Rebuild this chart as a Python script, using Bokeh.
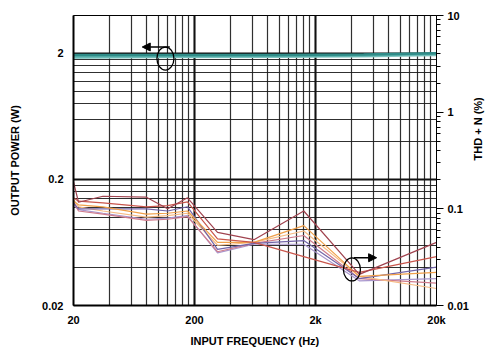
import math
from bokeh.plotting import figure
from bokeh.models import Range1d, LogAxis, FixedTicker, Grid, Arrow, NormalHead
from bokeh.embed import file_html
from bokeh.resources import INLINE

# ---- data ----
power_freq = [20, 100, 1000, 5000, 20000]
power_a = [1.94, 1.94, 1.94, 1.96, 2.01]
power_b = [1.89, 1.90, 1.91, 1.93, 1.98]
power_c = [1.85, 1.87, 1.88, 1.90, 1.94]

thd_freq = [20, 22, 35, 80, 120, 175, 310, 620, 1600, 4600, 20000]
thd_1 = [0.190, 0.117, 0.135, 0.132, 0.100, 0.130, 0.057, 0.048, 0.095, 0.021, 0.045]
thd_2 = [0.130, 0.120, 0.115, 0.105, 0.108, 0.118, 0.049, 0.045, 0.032, 0.022, 0.032]
thd_3 = [0.120, 0.110, 0.105, 0.088, 0.090, 0.095, 0.045, 0.045, 0.067, 0.020, 0.022]
thd_4 = [0.115, 0.100, 0.100, 0.100, 0.095, 0.105, 0.038, 0.044, 0.047, 0.019, 0.025]
thd_5 = [0.125, 0.105, 0.095, 0.082, 0.085, 0.090, 0.042, 0.045, 0.059, 0.020, 0.015]
thd_6 = [0.110, 0.098, 0.090, 0.078, 0.080, 0.085, 0.035, 0.043, 0.043, 0.018, 0.019]
thd_7 = [0.118, 0.095, 0.088, 0.076, 0.078, 0.083, 0.036, 0.044, 0.053, 0.019, 0.017]

power_colors = ["#2f8c88", "#5db3ae", "#8ccbc6"]
thd_colors = ["#a0434f", "#c9564c", "#f0a04a", "#7365a9", "#f6bb84", "#a996cd", "#d07c8c"]

x_ticks = [20, 200, 2000, 20000]
x_tick_labels = ["20", "200", "2k", "20k"]
x_grid = [20, 40, 60, 80, 100, 120, 140, 160, 180, 200,
          400, 600, 800, 1000, 1200, 1400, 1600, 1800, 2000,
          4000, 6000, 8000, 10000, 12000, 14000, 16000, 18000, 20000]
left_ticks = [0.02, 0.2, 2]
y_grid = [0.04, 0.06, 0.08, 0.1, 0.12, 0.14, 0.16, 0.18, 0.2,
          0.4, 0.6, 0.8, 1.0, 1.2, 1.4, 1.6, 1.8, 2.0]
right_ticks = [0.01, 0.1, 1, 10]
right_minor = [m * d for d in [0.01, 0.1, 1] for m in range(2, 10)]

FONT = "Liberation Sans"

p = figure(width=493, height=350, x_axis_type="log", y_axis_type="log",
           x_range=Range1d(20, 20000), y_range=Range1d(0.02, 4),
           output_backend="svg", toolbar_location=None,
           min_border_left=73, min_border_right=57, min_border_top=15,
           min_border_bottom=45)
p.extra_y_ranges = {"thd": Range1d(0.01, 10)}
p.background_fill_color = "white"
p.border_fill_color = "white"
p.outline_line_color = "black"
p.outline_line_width = 1

# grids
p.xgrid.ticker = FixedTicker(ticks=x_grid)
p.ygrid.ticker = FixedTicker(ticks=y_grid)
for g in (p.xgrid[0], p.ygrid[0]):
    g.grid_line_color = "#1a1a1a"
    g.grid_line_width = 1.2
    g.grid_line_alpha = 0.9
p.add_layout(Grid(dimension=0, ticker=FixedTicker(ticks=[200, 2000]),
                  grid_line_color="#111111", grid_line_width=2))
p.add_layout(Grid(dimension=1, ticker=FixedTicker(ticks=[0.2, 2]),
                  grid_line_color="#111111", grid_line_width=2))

# axes styling
def style(ax):
    ax.axis_label_text_font = FONT
    ax.axis_label_text_font_style = "bold"
    ax.axis_label_text_font_size = "11px"
    ax.axis_label_text_color = "black"
    ax.major_label_text_font = FONT
    ax.major_label_text_font_style = "bold"
    ax.major_label_text_font_size = "11px"
    ax.major_label_text_color = "black"

xa = p.xaxis[0]
xa.ticker = FixedTicker(ticks=x_ticks)
xa.major_label_overrides = {t: l for t, l in zip(x_ticks, x_tick_labels)}
xa.axis_label = "INPUT FREQUENCY (Hz)"
xa.axis_line_width = 2
xa.major_tick_out = 0
xa.major_tick_in = 0
xa.minor_tick_out = 0
xa.minor_tick_in = 0
xa.major_label_standoff = 8
xa.axis_label_standoff = 6
style(xa)

ya = p.yaxis[0]
ya.ticker = FixedTicker(ticks=left_ticks)
ya.major_label_overrides = {0.02: "0.02", 0.2: "0.2", 2: "2"}
ya.axis_label = "OUTPUT POWER (W)"
ya.axis_line_width = 2
ya.major_tick_out = 0
ya.major_tick_in = 0
ya.minor_tick_out = 0
ya.minor_tick_in = 0
ya.major_label_standoff = 10
ya.axis_label_standoff = 18
style(ya)

ra = LogAxis(y_range_name="thd", axis_label="THD + N (%)",
             ticker=FixedTicker(ticks=right_ticks, minor_ticks=right_minor))
ra.major_label_overrides = {0.01: "0.01", 0.1: "0.1", 1: "1", 10: "10"}
ra.axis_line_width = 1
ra.major_tick_out = 7
ra.major_tick_in = 0
ra.minor_tick_out = 4
ra.minor_tick_in = 0
ra.major_tick_line_width = 1.2
ra.minor_tick_line_width = 1.2
ra.major_label_standoff = 4
ra.axis_label_standoff = 6
ra.axis_label_orientation = math.pi / 2
style(ra)
p.add_layout(ra, "right")

# data lines
for ys, c in zip([power_c, power_b, power_a], power_colors[::-1]):
    p.line(power_freq, ys, line_color=c, line_width=2.5)

for ys, c in zip([thd_6, thd_7, thd_5, thd_4, thd_3, thd_2, thd_1],
                 [thd_colors[5], thd_colors[6], thd_colors[4], thd_colors[3],
                  thd_colors[2], thd_colors[1], thd_colors[0]]):
    p.line(thd_freq, ys, line_color=c, line_width=1.2, y_range_name="thd")

# annotation markers (ellipse + arrow)
p.ellipse(x=[115], y=[1.82], width=17, height=23, width_units="screen",
          height_units="screen", fill_color=None, line_color="black", line_width=1.3)
p.add_layout(Arrow(x_start=125, y_start=2.25, x_end=74, y_end=2.25,
                   line_width=1.3, line_color="black",
                   end=NormalHead(size=8, fill_color="black", line_color="black")))
p.ellipse(x=[4000], y=[0.0236], width=17, height=23, width_units="screen",
          height_units="screen", fill_color=None, line_color="black", line_width=1.3,
          y_range_name="thd")
p.add_layout(Arrow(x_start=4150, y_start=0.0312, x_end=6400, y_end=0.0312,
                   y_range_name="thd", line_width=1.3, line_color="black",
                   end=NormalHead(size=8, fill_color="black", line_color="black")))

open("out.html", "w").write(file_html(p, INLINE))
